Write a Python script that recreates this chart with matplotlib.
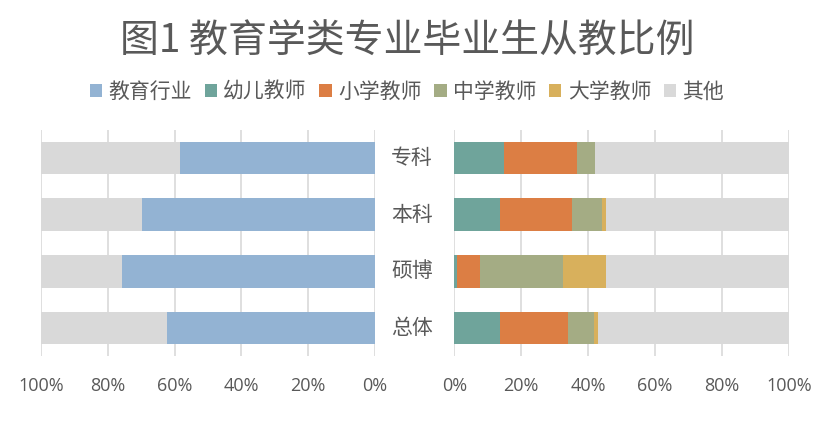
import matplotlib
matplotlib.use("Agg")
import matplotlib.pyplot as plt
import numpy as np

plt.rcParams['font.family'] = ['Noto Sans CJK SC', 'DejaVu Sans']

categories = ["专科", "本科", "硕博", "总体"]
edu_industry = [58.4, 69.9, 75.7, 62.4]
kinder = [14.9, 13.7, 0.9, 13.7]
primary = [21.7, 21.6, 6.8, 20.4]
middle = [5.3, 8.9, 24.7, 7.6]
college = [0.0, 1.0, 12.8, 1.1]
series_names = ["教育行业", "幼儿教师", "小学教师", "中学教师", "大学教师", "其他"]
colors = ["#93B3D3", "#6FA49B", "#DC7E44", "#A4AC84", "#D8B05C", "#D9D9D9"]
ticks = [0, 20, 40, 60, 80, 100]
tick_labels = ["0%", "20%", "40%", "60%", "80%", "100%"]
title = "图1 教育学类专业毕业生从教比例"

txt = "#595959"
grid = "#D9D9D9"

fig = plt.figure(figsize=(8.29, 4.34), dpi=100)
W, H = 829, 434
def ax_rect(x0, x1, y0, y1):
    return [x0 / W, 1 - y1 / H, (x1 - x0) / W, (y1 - y0) / H]

axL = fig.add_axes(ax_rect(41, 375, 129.6, 356.4))
axR = fig.add_axes(ax_rect(454.3, 789, 129.6, 356.4))

y = np.arange(len(categories))
bh = 0.57

edu = np.array(edu_industry)
axL.barh(y, edu, height=bh, color=colors[0], zorder=2)
axL.barh(y, 100 - edu, left=edu, height=bh, color=colors[5], zorder=2)

left = np.zeros(len(categories))
for vals, c in zip([kinder, primary, middle, college], colors[1:5]):
    v = np.array(vals)
    axR.barh(y, v, left=left, height=bh, color=c, zorder=2)
    left = left + v
axR.barh(y, 100 - left, left=left, height=bh, color=colors[5], zorder=2)

for ax in (axL, axR):
    ax.set_ylim(len(categories) - 0.5, -0.5)
    ax.set_xticks(ticks)
    ax.set_xticklabels(tick_labels)
    ax.set_yticks([])
    for s in ax.spines.values():
        s.set_visible(False)
    ax.grid(axis='x', color=grid, linewidth=1.2, zorder=0)
    ax.tick_params(axis='x', length=0, pad=15, labelsize=13, labelcolor=txt)
    for lab in ax.get_xticklabels():
        lab.set_fontfamily(['Open Sans', 'DejaVu Sans'])
axL.set_xlim(100, 0)
axR.set_xlim(0, 100)

for i, cat in enumerate(categories):
    fig.text(412 / W, 1 - (158 + i * 56.7) / H, cat, ha='center', va='center',
             fontsize=15, color=txt)

fig.text(407 / W, 1 - 42 / H, title, ha='center', va='center', fontsize=28, color=txt)

from matplotlib.patches import Patch
handles = [Patch(facecolor=c, edgecolor='none') for c in colors]
fig.legend(handles, series_names, loc='center', bbox_to_anchor=(407 / W, 1 - 92 / H),
           ncol=6, frameon=False, fontsize=15, labelcolor=txt,
           handlelength=0.6, handleheight=0.6, handletextpad=0.3, columnspacing=0.6)

fig.savefig("out.png", dpi=100, facecolor='white')
